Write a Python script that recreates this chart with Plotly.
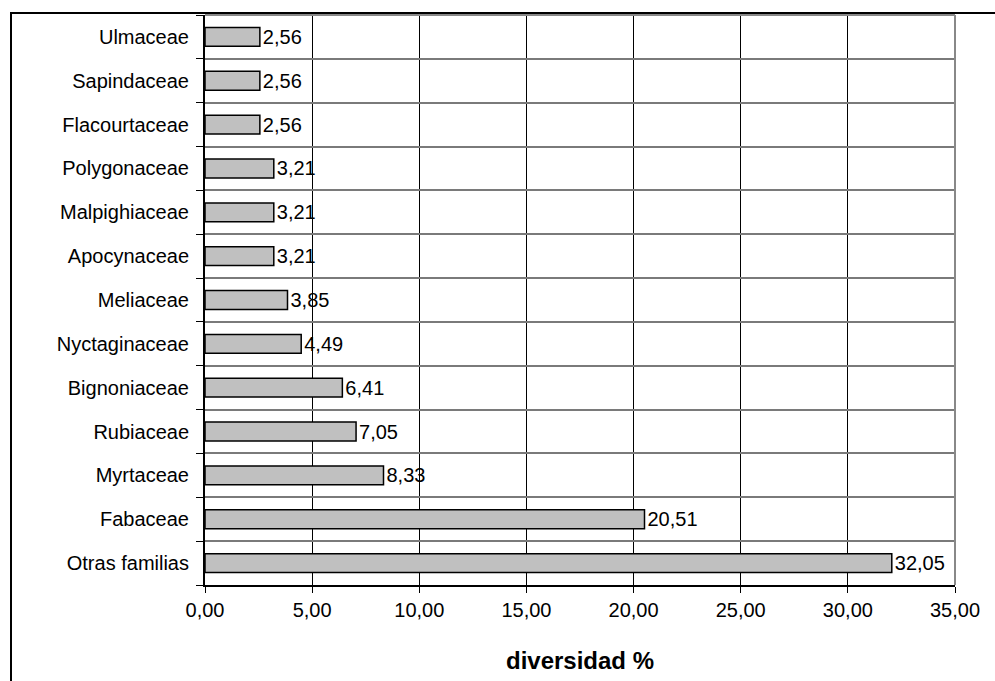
import plotly.graph_objects as go

categories = ["Otras familias", "Fabaceae", "Myrtaceae", "Rubiaceae", "Bignoniaceae",
              "Nyctaginaceae", "Meliaceae", "Apocynaceae", "Malpighiaceae",
              "Polygonaceae", "Flacourtaceae", "Sapindaceae", "Ulmaceae"]
values = [32.05, 20.51, 8.33, 7.05, 6.41, 4.49, 3.85, 3.21, 3.21, 3.21, 2.56, 2.56, 2.56]
x_ticks = [0, 5, 10, 15, 20, 25, 30, 35]
x_title = "diversidad %"

FONT = "Liberation Sans, Arial, sans-serif"

fig = go.Figure(go.Bar(
    x=values, y=categories, orientation="h",
    marker=dict(color="#c0c0c0", line=dict(color="black", width=1.5)),
    text=values, texttemplate="%{x:.2f}", textposition="outside",
    textfont=dict(family=FONT, size=20, color="black"),
    constraintext="none",
    cliponaxis=False, width=0.43,
))

L, R, T, B = 205, 40, 15, 96
W, H = 995, 681
pw, ph = W - L - R, H - T - B

def px_x(p):
    return (p - L) / pw

def px_y(p):
    return 1 - (p - T) / ph

fig.update_layout(
    width=W, height=H, margin=dict(l=L, r=R, t=T, b=B),
    paper_bgcolor="white", plot_bgcolor="white",
    separators=", ", showlegend=False,
    font=dict(family=FONT, size=20, color="black"),
    xaxis=dict(range=[0, 35], tickvals=x_ticks, tickformat=".2f",
               showgrid=True, gridcolor="black", gridwidth=1,
               showline=True, linecolor="black", linewidth=2,
               ticks="outside", ticklen=6, tickcolor="black",
               zeroline=False, fixedrange=True,
               title=dict(text="<b>" + x_title + "</b>", font=dict(size=24), standoff=32)),
    yaxis=dict(categoryorder="array", categoryarray=categories,
               showgrid=True, gridcolor="#7a7a7a", gridwidth=2,
               showline=True, linecolor="black", linewidth=2,
               ticks="outside", ticklen=7, tickcolor="black", tickson="boundaries",
               ticklabelstandoff=10, zeroline=False, fixedrange=True),
    shapes=[
        dict(type="line", xref="paper", yref="paper", x0=0, x1=1, y0=1, y1=1,
             line=dict(color="#888888", width=2), layer="above"),
        dict(type="line", xref="paper", yref="paper", x0=1, x1=1, y0=0, y1=1,
             line=dict(color="#888888", width=2), layer="above"),
        dict(type="line", xref="paper", yref="paper", x0=px_x(10), x1=px_x(996), y0=px_y(13), y1=px_y(13),
             line=dict(color="black", width=2)),
        dict(type="line", xref="paper", yref="paper", x0=px_x(11), x1=px_x(11), y0=px_y(13), y1=px_y(682),
             line=dict(color="black", width=2)),
    ],
)

fig.write_html("out.html")
